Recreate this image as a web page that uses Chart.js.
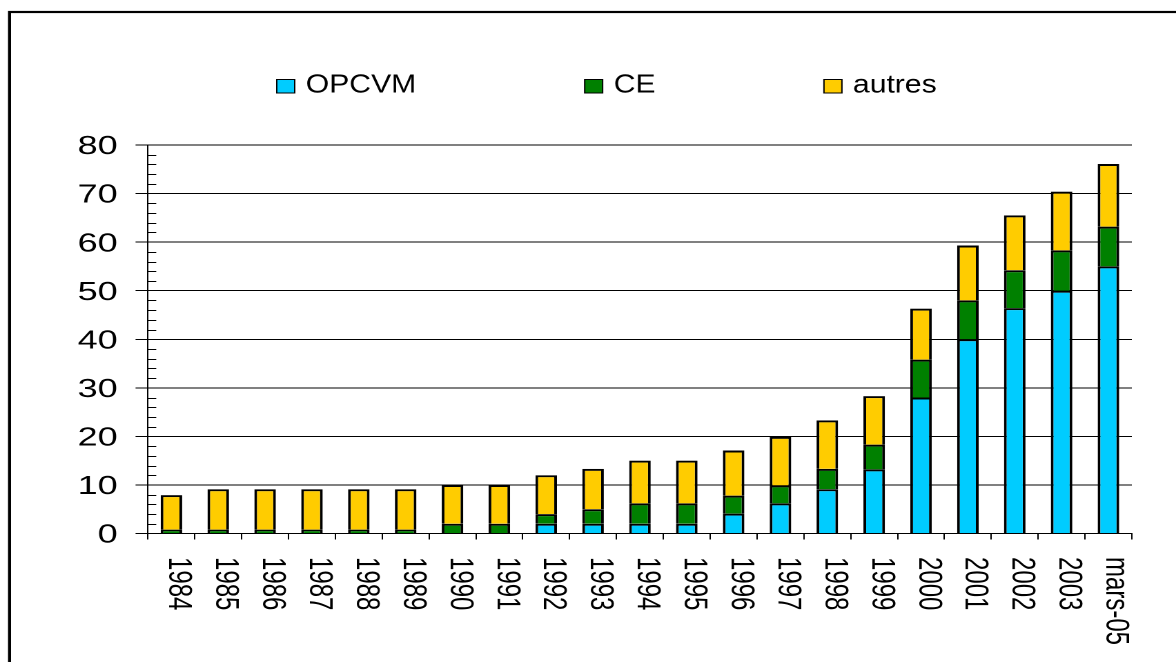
<!DOCTYPE html>
<html>
<head>
<meta charset="utf-8">
<script src="https://cdn.jsdelivr.net/npm/chart.js@4"></script>
<style>
  html, body { margin: 0; padding: 0; background: #fff; overflow: hidden; }
  #wrap { width: 1176px; height: 662px; overflow: hidden; }
  /* the original picture is stretched sideways, so the chart is drawn narrow and widened */
  #myChart { display: block; transform: scaleX(1.3803); transform-origin: 0 0; }
</style>
</head>
<body>
<div id="wrap"><canvas id="myChart" width="852" height="662"></canvas></div>
<script>
const categories = ['1984', '1985', '1986', '1987', '1988', '1989', '1990', '1991', '1992', '1993',
  '1994', '1995', '1996', '1997', '1998', '1999', '2000', '2001', '2002', '2003', 'mars-05'];
const opcvm  = [0, 0, 0, 0, 0, 0, 0, 0, 2, 2, 2, 2, 4.1, 6.2, 9.1, 13.2, 28, 40, 46.4, 50, 55];
const ce     = [0.8, 0.8, 0.8, 0.8, 0.8, 0.8, 2, 2, 2, 3, 4.2, 4.2, 3.7, 3.7, 4.2, 5.1, 7.8, 8, 7.8, 8.3, 8.2];
const autres = [7.1, 8.3, 8.3, 8.3, 8.3, 8.3, 8, 8, 8, 8.3, 8.8, 8.8, 9.3, 10, 10, 10, 10.5, 11.3, 11.3, 12.1, 12.9];
const yTicks = [0, 10, 20, 30, 40, 50, 60, 70, 80];

const FONT = '"Liberation Sans", Arial, sans-serif';

// frame, minor ticks, rotated year labels and the legend
const decor = {
  id: 'decor',
  beforeDraw(chart) {
    const ctx = chart.ctx;
    ctx.save();
    ctx.strokeStyle = '#000';
    ctx.lineWidth = 2.2;
    ctx.strokeRect(6.9, 12, 1000, 1000);
    ctx.restore();
  },
  afterDraw(chart) {
    const ctx = chart.ctx, x = chart.scales.x, y = chart.scales.y;
    ctx.save();
    ctx.strokeStyle = '#000';
    ctx.lineWidth = 1;
    for (let v = 2; v < yTicks[yTicks.length - 1]; v += 2) {
      if (v % 10 === 0) continue;
      const py = Math.round(y.getPixelForValue(v)) + 0.5;
      ctx.beginPath();
      ctx.moveTo(x.left, py);
      ctx.lineTo(x.left + 6, py);
      ctx.stroke();
    }

    ctx.fillStyle = '#000';
    ctx.font = '24px ' + FONT;
    ctx.textAlign = 'left';
    ctx.textBaseline = 'alphabetic';
    categories.forEach((c, i) => {
      ctx.save();
      ctx.translate(x.getPixelForValue(i) - 1.5, 557);
      ctx.rotate(Math.PI / 2);
      ctx.fillText(c, 0, 0);
      ctx.restore();
    });

    // legend (text is a little narrower than the rest of the picture)
    const sx = 0.84;
    ctx.font = '26px ' + FONT;
    let lx = 200.5;
    chart.data.datasets.forEach(ds => {
      ctx.fillStyle = ds.backgroundColor;
      ctx.fillRect(lx, 79.5, 13, 13.5);
      ctx.strokeStyle = '#000';
      ctx.lineWidth = 1;
      ctx.strokeRect(lx, 79.5, 13, 13.5);
      ctx.fillStyle = '#000';
      ctx.save();
      ctx.translate(lx + 21, 92.7);
      ctx.scale(sx, 1);
      ctx.fillText(ds.label, 0, 0);
      ctx.restore();
      lx += 21 + ctx.measureText(ds.label).width * sx + 122;
    });
    ctx.restore();
  }
};

const init = function () {
  const ctx = document.getElementById('myChart').getContext('2d');
  new Chart(ctx, {
    type: 'bar',
    data: {
      labels: categories,
      datasets: [
        { label: 'OPCVM', data: opcvm, backgroundColor: '#00CCFF' },
        { label: 'CE', data: ce, backgroundColor: '#008000' },
        { label: 'autres', data: autres, backgroundColor: '#FFCC00' }
      ]
    },
    options: {
      responsive: false,
      devicePixelRatio: 2,
      animation: false,
      layout: { padding: { top: 145, right: 32, left: 0, bottom: 0 } },
      datasets: {
        bar: { borderColor: '#000', borderWidth: 2, barPercentage: 0.46, categoryPercentage: 1 }
      },
      plugins: { legend: { display: false }, tooltip: { enabled: false } },
      scales: {
        x: {
          stacked: true,
          ticks: { display: false },
          grid: { drawOnChartArea: false, drawTicks: true, tickLength: 6, color: '#000', offset: true },
          border: { color: '#000', width: 1 },
          afterFit: s => { s.height = 128.5; }
        },
        y: {
          stacked: true,
          min: yTicks[0],
          max: yTicks[yTicks.length - 1],
          afterBuildTicks: s => { s.ticks = yTicks.map(v => ({ value: v })); },
          ticks: { color: '#000', font: { family: FONT, size: 26 }, padding: 13, labelOffset: 2 },
          grid: { color: '#000', lineWidth: 1, tickLength: 9 },
          border: { color: '#000', width: 1 },
          afterFit: s => { s.width = 107.2; }
        }
      }
    },
    plugins: [decor]
  });
};

document.addEventListener('DOMContentLoaded', init);
</script>
</body>
</html>
